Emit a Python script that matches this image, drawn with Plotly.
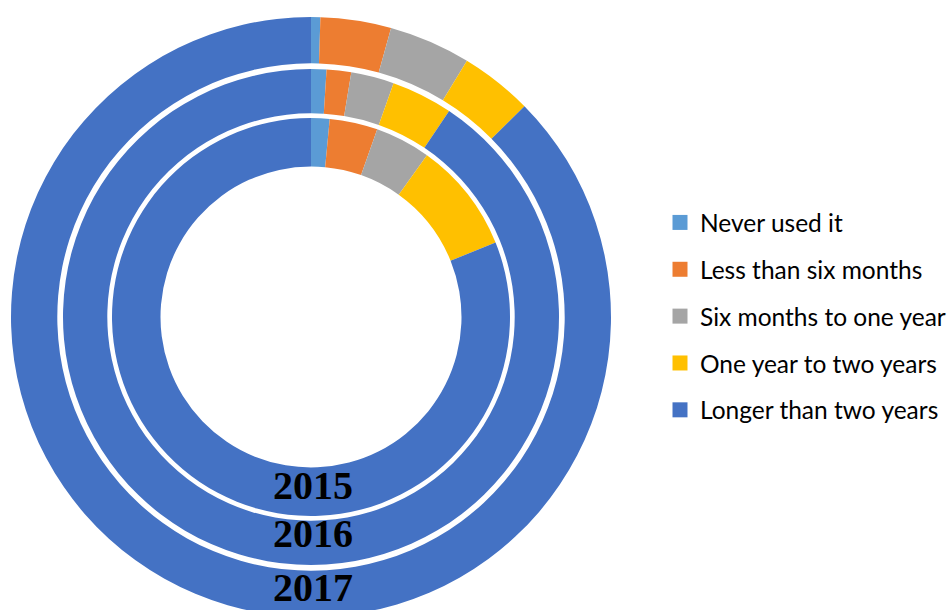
import plotly.graph_objects as go

categories = ["Never used it", "Less than six months", "Six months to one year",
              "One year to two years", "Longer than two years"]
colors = ["#5B9BD5", "#ED7D31", "#A5A5A5", "#FFC000", "#4472C4"]
years = ["2015", "2016", "2017"]
values_2015 = [1.5, 3.9, 4.5, 9.0, 81.1]
values_2016 = [1.0, 1.6, 2.8, 4.0, 90.6]
values_2017 = [0.5, 3.8, 4.4, 3.9, 87.4]
series = [values_2015, values_2016, values_2017]

W, H = 952, 624
cx, cy = 311, 317
# (outer radius, inner radius) in px for rings 2015, 2016, 2017
rings = [(199, 150.5), (248, 203.7), (300, 253.7)]

fig = go.Figure()
for vals, (ro, ri), yr in zip(series, rings, years):
    fig.add_trace(go.Pie(
        labels=categories, values=vals, sort=False, direction="clockwise",
        rotation=0, hole=ri / ro, textinfo="none", showlegend=False,
        marker=dict(colors=colors, line=dict(width=0)),
        domain=dict(x=[(cx - ro) / W, (cx + ro) / W],
                    y=[1 - (cy + ro) / H, 1 - (cy - ro) / H]),
        name=yr,
    ))

for cat, col in zip(categories, colors):
    fig.add_trace(go.Scatter(
        x=[None], y=[None], mode="markers", name=cat, legendgroup=cat,
        marker=dict(symbol="square", size=15, color=col),
        showlegend=True,
    ))

label_y = [485, 533, 587]
for yr, ly in zip(years, label_y):
    fig.add_annotation(
        x=313 / W, y=1 - ly / H, xref="paper", yref="paper", text="<b>%s</b>" % yr,
        showarrow=False, xanchor="center", yanchor="middle",
        font=dict(family="Liberation Serif", size=40, color="black"),
    )

fig.update_layout(
    width=W, height=H, margin=dict(l=0, r=0, t=0, b=0, autoexpand=False),
    paper_bgcolor="white", plot_bgcolor="white",
    xaxis=dict(visible=False), yaxis=dict(visible=False),
    legend=dict(x=660 / W, y=1 - 200 / H, xanchor="left", yanchor="top",
                xref="container", yref="container",
                traceorder="grouped", tracegroupgap=12,
                font=dict(family="Lato", size=24.5, color="black"),
                bgcolor="rgba(0,0,0,0)"),
)

fig.write_html("out.html", post_script="document.body.style.overflow='hidden';")
